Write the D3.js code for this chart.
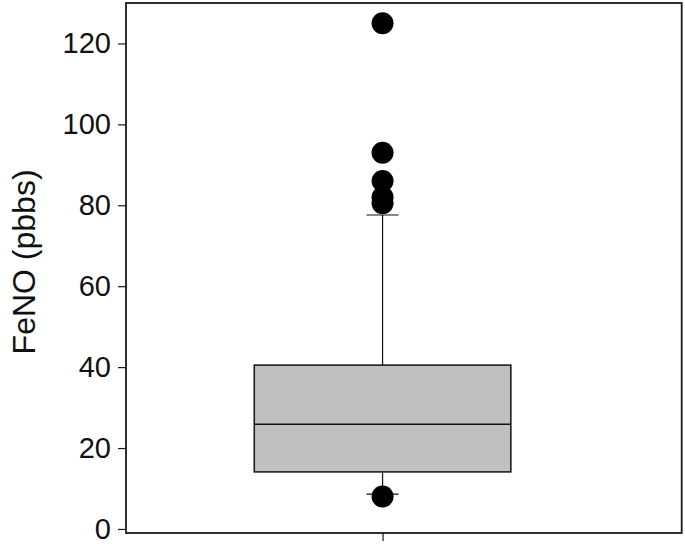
<!DOCTYPE html>
<html>
<head>
<meta charset="utf-8">
<script src="https://cdn.jsdelivr.net/npm/d3@7"></script>
<style>
  html, body { margin: 0; padding: 0; background: #fff; }
  svg { display: block; font-family: "Liberation Sans", Arial, sans-serif; }
</style>
</head>
<body>
<svg id="chart" width="685" height="544"></svg>
<script>
// ---- data ----
const categories = ["FeNO"];
const lowerWhisker = [8.6];
const q1Values = [14.1];
const medianValues = [25.9];
const q3Values = [40.5];
const upperWhisker = [77.6];
const outlierValues = [[125, 93, 86, 82, 80.5, 8]];
const yTicks = [0, 20, 40, 60, 80, 100, 120];
const yLabel = "FeNO (pbbs)";

// ---- layout ----
const W = 685, H = 544;
const margin = { top: 3, right: 3.3, bottom: 11, left: 126 };
const svg = d3.select("#chart");

const x = d3.scaleLinear().domain([0, 2.166]).range([margin.left, W - margin.right]);
const y = d3.scaleLinear().domain([-1, 130]).range([H - margin.bottom, margin.top]);

const boxHalf = 0.5, capHalf = 0.0625;

// frame
svg.append("rect")
  .attr("x", margin.left).attr("y", margin.top)
  .attr("width", W - margin.right - margin.left)
  .attr("height", H - margin.bottom - margin.top)
  .attr("fill", "none").attr("stroke", "#1a1a1a").attr("stroke-width", 1.8);

// y axis
const yAxis = svg.append("g")
  .attr("transform", `translate(${margin.left},0)`)
  .call(d3.axisLeft(y).tickValues(yTicks).tickSize(8).tickPadding(7).tickFormat(d3.format("d")));
yAxis.select(".domain").remove();
yAxis.selectAll(".tick line").attr("stroke", "#1a1a1a").attr("stroke-width", 1.2);
yAxis.selectAll(".tick text").attr("font-size", 29).attr("fill", "#111")
  .attr("font-family", "'Liberation Sans', Arial, sans-serif");

// x axis (single tick, no label)
const xAxis = svg.append("g")
  .attr("transform", `translate(0,${H - margin.bottom})`)
  .call(d3.axisBottom(x).tickValues(categories.map((c, i) => i + 1)).tickSize(8).tickFormat(""));
xAxis.select(".domain").remove();
xAxis.selectAll(".tick line").attr("stroke", "#1a1a1a").attr("stroke-width", 1.2);

// y label
svg.append("text")
  .attr("transform", `translate(35,${y(66)}) rotate(-90)`)
  .attr("text-anchor", "middle")
  .attr("font-size", 32)
  .attr("fill", "#111")
  .text(yLabel);

// boxes
categories.forEach((c, i) => {
  const cx = i + 1;
  const g = svg.append("g");
  // whiskers
  g.append("line").attr("x1", x(cx)).attr("x2", x(cx))
    .attr("y1", y(q3Values[i])).attr("y2", y(upperWhisker[i]))
    .attr("stroke", "#111").attr("stroke-width", 1.2);
  g.append("line").attr("x1", x(cx)).attr("x2", x(cx))
    .attr("y1", y(q1Values[i])).attr("y2", y(lowerWhisker[i]))
    .attr("stroke", "#111").attr("stroke-width", 1.2);
  // caps
  [upperWhisker[i], lowerWhisker[i]].forEach(v => {
    g.append("line").attr("x1", x(cx - capHalf)).attr("x2", x(cx + capHalf))
      .attr("y1", y(v)).attr("y2", y(v))
      .attr("stroke", "#111").attr("stroke-width", 1.2);
  });
  // box
  g.append("rect")
    .attr("x", x(cx - boxHalf)).attr("width", x(cx + boxHalf) - x(cx - boxHalf))
    .attr("y", y(q3Values[i])).attr("height", y(q1Values[i]) - y(q3Values[i]))
    .attr("fill", "#c0c0c0").attr("stroke", "#111").attr("stroke-width", 1.5);
  // median
  g.append("line").attr("x1", x(cx - boxHalf)).attr("x2", x(cx + boxHalf))
    .attr("y1", y(medianValues[i])).attr("y2", y(medianValues[i]))
    .attr("stroke", "#111").attr("stroke-width", 1.5);
  // outliers
  g.selectAll("circle.out").data(outlierValues[i]).enter().append("circle")
    .attr("class", "out")
    .attr("cx", x(cx)).attr("cy", d => y(d)).attr("r", 11)
    .attr("fill", "#000");
});
</script>
</body>
</html>
